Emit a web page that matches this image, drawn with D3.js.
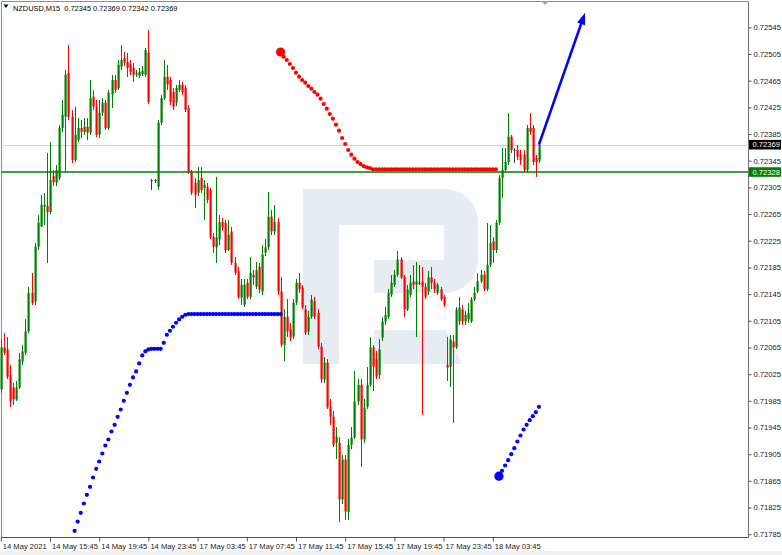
<!DOCTYPE html>
<html><head><meta charset="utf-8">
<script src="https://cdn.jsdelivr.net/npm/d3@7/dist/d3.min.js"></script>
<style>
html,body{margin:0;padding:0;background:#fff;}
svg{display:block;font-family:"Liberation Sans",Arial,sans-serif;}
</style></head><body>
<svg id="c" width="782" height="555"></svg>
<script>
// ---------- DATA ----------
const symbolTitle = "NZDUSD,M15";
const lastOHLC = [0.72345, 0.72369, 0.72342, 0.72369];

const open = [0.72002,0.72065,0.72062,0.72024,0.72005,0.71987,0.72005,0.72044,0.72057,0.72089,
0.72147,0.72134,0.72216,0.72246,0.72276,0.72277,0.72268,0.72322,0.72312,0.72319,
0.72394,0.72411,0.72477,0.72411,0.72346,0.72376,0.72394,0.72388,0.72396,0.72387,
0.72441,0.72426,0.72384,0.72417,0.72432,0.72394,0.72444,0.72466,0.72454,0.72486,
0.72499,0.72493,0.72489,0.72484,0.72474,0.72472,0.72475,0.72474,0.72507,0.72316,
0.72316,0.72306,0.72402,0.72439,0.72471,0.72466,0.72448,0.72432,0.72451,0.72459,
0.72454,0.72424,0.72328,0.72312,0.72297,0.72319,0.72304,0.72306,0.72301,0.72231,
0.72215,0.72227,0.72253,0.72252,0.72211,0.72239,0.72192,0.72179,0.72140,0.72129,
0.72162,0.72141,0.72174,0.72156,0.72186,0.72149,0.72207,0.72215,0.72261,0.72239,
0.72253,0.72149,0.72069,0.72111,0.72092,0.72081,0.72132,0.72162,0.72155,0.72122,
0.72089,0.72111,0.72134,0.72117,0.72066,0.72017,0.72042,0.71976,0.71961,0.71922,
0.71922,0.71837,0.71897,0.71818,0.71919,0.71930,0.71984,0.72009,0.71927,0.71976,
0.72009,0.72065,0.72047,0.72024,0.72080,0.72104,0.72111,0.72144,0.72159,0.72174,
0.72197,0.72171,0.72122,0.72144,0.72164,0.72159,0.72162,0.72164,0.72156,0.72149,
0.72170,0.72162,0.72147,0.72152,0.72141,0.72039,0.72036,0.72074,0.72065,0.72104,
0.72122,0.72104,0.72107,0.72104,0.72137,0.72149,0.72164,0.72174,0.72152,0.72189,
0.72224,0.72211,0.72252,0.72319,0.72331,0.72343,0.72381,0.72361,0.72361,0.72354,
0.72354,0.72331,0.72394,0.72394,0.72349,0.72345];

const high = [0.72077,0.72087,0.72080,0.72039,0.72012,0.72014,0.72057,0.72069,0.72107,0.72156,
0.72177,0.72222,0.72264,0.72294,0.72297,0.72357,0.72373,0.72331,0.72339,0.72399,
0.72436,0.72481,0.72519,0.72421,0.72426,0.72409,0.72406,0.72409,0.72409,0.72466,
0.72451,0.72436,0.72436,0.72439,0.72436,0.72451,0.72474,0.72474,0.72496,0.72519,
0.72508,0.72507,0.72496,0.72492,0.72481,0.72484,0.72487,0.72514,0.72541,0.72318,
0.72318,0.72406,0.72444,0.72496,0.72489,0.72471,0.72454,0.72459,0.72466,0.72463,
0.72459,0.72429,0.72331,0.72319,0.72336,0.72336,0.72316,0.72312,0.72304,0.72237,
0.72321,0.72264,0.72259,0.72256,0.72256,0.72245,0.72200,0.72185,0.72167,0.72167,
0.72167,0.72200,0.72181,0.72193,0.72192,0.72219,0.72227,0.72298,0.72271,0.72279,
0.72259,0.72171,0.72122,0.72137,0.72102,0.72137,0.72167,0.72177,0.72159,0.72129,
0.72119,0.72143,0.72140,0.72122,0.72072,0.72050,0.72047,0.71987,0.71969,0.71946,
0.71930,0.71904,0.71904,0.71927,0.71945,0.72029,0.72017,0.72017,0.71987,0.72036,
0.72080,0.72069,0.72059,0.72077,0.72110,0.72125,0.72152,0.72174,0.72181,0.72209,
0.72200,0.72174,0.72159,0.72174,0.72189,0.72193,0.72188,0.72185,0.72162,0.72179,
0.72186,0.72167,0.72162,0.72155,0.72144,0.72081,0.72084,0.72084,0.72125,0.72141,
0.72129,0.72119,0.72132,0.72140,0.72155,0.72177,0.72181,0.72179,0.72252,0.72249,
0.72230,0.72256,0.72324,0.72364,0.72364,0.72417,0.72384,0.72364,0.72369,0.72361,
0.72361,0.72399,0.72417,0.72399,0.72354,0.72369];

const low = [0.71997,0.72053,0.72017,0.71976,0.71979,0.71984,0.72002,0.72039,0.72054,0.72086,
0.72128,0.72129,0.72211,0.72245,0.72249,0.72192,0.72265,0.72307,0.72307,0.72316,
0.72388,0.72328,0.72406,0.72342,0.72343,0.72373,0.72379,0.72384,0.72376,0.72384,
0.72421,0.72381,0.72379,0.72412,0.72391,0.72391,0.72424,0.72447,0.72451,0.72481,
0.72487,0.72471,0.72474,0.72463,0.72471,0.72469,0.72472,0.72471,0.72430,0.72301,
0.72312,0.72301,0.72399,0.72436,0.72451,0.72429,0.72421,0.72427,0.72448,0.72444,
0.72418,0.72325,0.72294,0.72274,0.72292,0.72297,0.72256,0.72282,0.72227,0.72207,
0.72192,0.72219,0.72239,0.72207,0.72209,0.72189,0.72173,0.72137,0.72129,0.72126,
0.72137,0.72138,0.72159,0.72152,0.72147,0.72144,0.72202,0.72211,0.72234,0.72234,
0.72144,0.72066,0.72044,0.72080,0.72074,0.72077,0.72128,0.72147,0.72122,0.72083,
0.72084,0.72107,0.72107,0.72062,0.72012,0.72012,0.71972,0.71949,0.71915,0.71897,
0.71804,0.71830,0.71807,0.71807,0.71912,0.71927,0.71979,0.71886,0.71922,0.71972,
0.72005,0.71999,0.72017,0.72017,0.72074,0.72099,0.72107,0.72140,0.72155,0.72170,
0.72167,0.72110,0.72119,0.72141,0.72152,0.72080,0.72159,0.71964,0.72137,0.72144,
0.72152,0.72147,0.72144,0.72134,0.72126,0.72014,0.72006,0.71952,0.72062,0.72099,
0.72099,0.72099,0.72102,0.72101,0.72134,0.72146,0.72162,0.72149,0.72149,0.72185,
0.72192,0.72207,0.72249,0.72289,0.72328,0.72339,0.72357,0.72342,0.72346,0.72339,
0.72328,0.72328,0.72384,0.72339,0.72321,0.72342];

const close = [0.72065,0.72057,0.72021,0.71984,0.71987,0.72005,0.72047,0.72059,0.72089,0.72147,
0.72132,0.72216,0.72252,0.72279,0.72279,0.72268,0.72316,0.72313,0.72331,0.72394,
0.72414,0.72474,0.72411,0.72346,0.72384,0.72394,0.72388,0.72396,0.72387,0.72439,
0.72426,0.72384,0.72417,0.72432,0.72394,0.72447,0.72466,0.72451,0.72489,0.72496,
0.72492,0.72484,0.72478,0.72474,0.72477,0.72478,0.72480,0.72511,0.72433,0.72316,
0.72316,0.72402,0.72439,0.72471,0.72459,0.72433,0.72426,0.72454,0.72459,0.72448,
0.72421,0.72328,0.72297,0.72294,0.72316,0.72301,0.72309,0.72286,0.72230,0.72216,
0.72230,0.72253,0.72245,0.72211,0.72234,0.72192,0.72177,0.72140,0.72159,0.72159,
0.72141,0.72177,0.72170,0.72181,0.72152,0.72204,0.72215,0.72261,0.72239,0.72253,
0.72149,0.72069,0.72111,0.72089,0.72080,0.72132,0.72162,0.72152,0.72125,0.72087,
0.72111,0.72137,0.72111,0.72066,0.72017,0.72042,0.71975,0.71961,0.71919,0.71931,
0.71837,0.71897,0.71819,0.71919,0.71930,0.71984,0.72009,0.71927,0.71975,0.72009,
0.72065,0.72036,0.72021,0.72062,0.72104,0.72114,0.72147,0.72162,0.72174,0.72197,
0.72170,0.72122,0.72152,0.72162,0.72159,0.72164,0.72162,0.72156,0.72141,0.72170,
0.72162,0.72152,0.72159,0.72137,0.72129,0.72035,0.72077,0.72065,0.72122,0.72125,
0.72104,0.72114,0.72117,0.72137,0.72147,0.72164,0.72174,0.72152,0.72189,0.72222,
0.72211,0.72252,0.72319,0.72331,0.72343,0.72381,0.72361,0.72361,0.72351,0.72346,
0.72331,0.72394,0.72388,0.72343,0.72343,0.72369];

// indicator dots (bar index start + prices)
const blueStart = 24;
const blueDots = [0.71790,0.71804,0.71817,0.71831,0.71844,0.71856,0.71870,0.71883,0.71894,0.71906,
0.71918,0.71927,0.71939,0.71949,0.71961,0.71972,0.71985,0.71997,0.72009,0.72020,
0.72029,0.72041,0.72053,0.72059,0.72062,0.72063,0.72063,0.72063,0.72063,0.72072,
0.72084,0.72090,0.72096,0.72102,0.72107,0.72111,0.72114,0.72115,0.72115,0.72115,
0.72115,0.72115,0.72115,0.72115,0.72115,0.72115,0.72115,0.72115,0.72115,0.72115,
0.72115,0.72115,0.72115,0.72115,0.72115,0.72115,0.72115,0.72115,0.72115,0.72115,
0.72115,0.72115,0.72115,0.72115,0.72115,0.72115,0.72115,0.72115];
const redStart = 91;
const redDots = [0.72508,0.72501,0.72496,0.72490,0.72484,0.72477,0.72471,0.72466,0.72462,0.72457,
0.72453,0.72448,0.72444,0.72438,0.72430,0.72423,0.72415,0.72408,0.72399,0.72390,
0.72379,0.72370,0.72361,0.72354,0.72348,0.72343,0.72340,0.72337,0.72335,0.72334,
0.72332,0.72332,0.72332,0.72332,0.72332,0.72332,0.72332,0.72332,0.72332,0.72332,
0.72332,0.72332,0.72332,0.72332,0.72332,0.72332,0.72332,0.72332,0.72332,0.72332,
0.72332,0.72332,0.72332,0.72332,0.72332,0.72332,0.72332,0.72332,0.72332,0.72332,
0.72332,0.72332,0.72332,0.72332,0.72332,0.72332,0.72332,0.72332,0.72332,0.72332,
0.72332];
const blue2Start = 162;
const blueDots2 = [0.71872,0.71880,0.71888,0.71896,0.71905,0.71914,0.71924,0.71933,0.71942,0.71949,
0.71956,0.71962,0.71968,0.71976];
const arrowFrom = [175, 0.72369];
const arrowTo = [190, 0.72567];

const levelPrice = 0.72328;
const currentPrice = 0.72369;

const priceTicks = [0.72545,0.72505,0.72465,0.72425,0.72385,0.72345,0.72305,0.72265,0.72225,0.72185,
0.72145,0.72105,0.72065,0.72025,0.71985,0.71945,0.71905,0.71865,0.71825,0.71785];
const timeTickIndex = [0,16,32,48,64,80,96,112,128,144,160];
const timeTickLabels = ["14 May 2021","14 May 15:45","14 May 19:45","14 May 23:45","17 May 03:45",
"17 May 07:45","17 May 11:45","17 May 15:45","17 May 19:45","17 May 23:45","18 May 03:45"];

// ---------- LAYOUT ----------
const W = 782, H = 555;
const plotL = 1.5, plotR = 748.5, plotT = 1.5, plotB = 537.5;
const barStep = 3.075, x0 = 0.8;
const x = d3.scaleLinear().domain([0, 1]).range([x0, x0 + barStep]);
const y = d3.scaleLinear().domain([0.71785, 0.72545]).range([534.2, 27.3]);
const fmt = d3.format(".5f");
const GREEN = "#008000", RED = "#ff0000", BLUE = "#0000ff";

const svg = d3.select("#c");
svg.append("rect").attr("width", W).attr("height", H).attr("fill", "#fff");
svg.append("rect").attr("x", 0).attr("y", 551).attr("width", W).attr("height", 4).attr("fill", "#f0f0f0");

// watermark logo
const wm = svg.append("g").attr("fill", "#e7ecf3");
wm.append("path").attr("d", "M303,189H339V364H303Z");
wm.append("path").attr("d", "M339,189H445A33,33 0 0 1 478,222V260A33,33 0 0 1 445,293H374V260H444V225H339Z");
wm.append("path").attr("d", "M374,330H446L462,364H374Z");

// frame
const frame = svg.append("g").attr("stroke", "#8c8c8c").attr("stroke-width", 1).attr("fill", "none");
frame.append("line").attr("x1", plotL).attr("x2", plotL).attr("y1", plotT).attr("y2", plotB);
frame.append("line").attr("x1", plotL).attr("x2", plotR).attr("y1", plotT).attr("y2", plotT);
frame.append("line").attr("x1", plotR).attr("x2", plotR).attr("y1", plotT).attr("y2", plotB).attr("stroke", "#707070");
frame.append("line").attr("x1", plotL).attr("x2", plotR).attr("y1", plotB).attr("y2", plotB).attr("stroke", "#505050");

// current price line
svg.append("line").attr("x1", plotL).attr("x2", plotR)
  .attr("y1", Math.round(y(currentPrice)) + 0.5).attr("y2", Math.round(y(currentPrice)) + 0.5)
  .attr("stroke", "#d0d0d0").attr("stroke-width", 1);

// candles
const idx = d3.range(open.length);
const cg = svg.append("g");
idx.forEach(i => {
  const cx = Math.round(x(i));
  const up = close[i] > open[i], dn = close[i] < open[i];
  const col = up ? GREEN : (dn ? RED : "#404040");
  cg.append("rect").attr("x", cx).attr("width", 1)
    .attr("y", y(high[i])).attr("height", Math.max(1, y(low[i]) - y(high[i])))
    .attr("fill", col).attr("shape-rendering", "crispEdges");
  const yt = y(Math.max(open[i], close[i])), yb = y(Math.min(open[i], close[i]));
  cg.append("rect").attr("x", cx - 0.5).attr("width", 2.2)
    .attr("y", yt).attr("height", Math.max(1, yb - yt)).attr("fill", col);
});

// green level line
svg.append("line").attr("x1", plotL).attr("x2", plotR)
  .attr("y1", y(levelPrice)).attr("y2", y(levelPrice))
  .attr("stroke", GREEN).attr("stroke-width", 1.6);

// dots
function dots(arr, start, color) {
  svg.append("g").selectAll("circle").data(arr).join("circle")
    .attr("cx", (d, k) => x(start + k)).attr("cy", d => y(d)).attr("r", 2.1).attr("fill", color);
}
dots(blueDots, blueStart, BLUE);
dots(redDots, redStart, RED);
dots(blueDots2, blue2Start, BLUE);
svg.append("circle").attr("cx", x(redStart)).attr("cy", y(redDots[0])).attr("r", 4.6).attr("fill", RED);
svg.append("circle").attr("cx", x(blue2Start)).attr("cy", y(blueDots2[0])).attr("r", 4.6).attr("fill", BLUE);

// arrow
{
  const ax1 = x(arrowFrom[0]), ay1 = y(arrowFrom[1]), ax2 = x(arrowTo[0]), ay2 = y(arrowTo[1]);
  const ang = Math.atan2(ay2 - ay1, ax2 - ax1);
  const hl = 12, hw = 4.2;
  const bx = ax2 - hl * Math.cos(ang), by = ay2 - hl * Math.sin(ang);
  svg.append("line").attr("x1", ax1).attr("y1", ay1).attr("x2", bx + 2 * Math.cos(ang)).attr("y2", by + 2 * Math.sin(ang))
    .attr("stroke", BLUE).attr("stroke-width", 2.6);
  const px = -Math.sin(ang), py = Math.cos(ang);
  svg.append("path").attr("d", `M${ax2},${ay2}L${bx + hw * px},${by + hw * py}L${bx - hw * px},${by - hw * py}Z`)
    .attr("fill", BLUE);
}

// shift marker
svg.append("path").attr("d", `M${x(177) - 3.5},1.5L${x(177) + 3.5},1.5L${x(177)},5Z`).attr("fill", "#a8a8a8");

// price axis
const yAxis = d3.axisRight(y).tickValues(priceTicks).tickSize(3).tickPadding(2).tickFormat(fmt);
const ya = svg.append("g").attr("transform", `translate(${plotR},0)`).call(yAxis);
ya.select(".domain").remove();
ya.selectAll("line").attr("stroke", "#505050");
ya.selectAll("text").attr("font-size", "7.6px").attr("fill", "#202020").attr("font-family", "Liberation Sans, Arial, sans-serif");

// price boxes
function priceBox(p, bg) {
  const cy = y(p);
  svg.append("rect").attr("x", plotR + 0.5).attr("y", cy - 4.8).attr("width", 32).attr("height", 9.6).attr("fill", bg);
  svg.append("text").attr("x", plotR + 4).attr("y", cy + 2.8).attr("font-size", "7.6px").attr("fill", "#fff").text(fmt(p));
}
priceBox(currentPrice, "#000");
priceBox(levelPrice, GREEN);

// time axis
const xAxis = d3.axisBottom(x).tickValues(timeTickIndex).tickSize(4).tickFormat((d, k) => timeTickLabels[k]);
const xa = svg.append("g").attr("transform", `translate(0,${plotB})`).call(xAxis);
xa.select(".domain").remove();
xa.selectAll("line").attr("stroke", "#505050");
xa.selectAll("text").attr("text-anchor", "start").attr("dx", "1.5px").attr("dy", "0.55em")
  .attr("font-size", "7.6px").attr("fill", "#202020").attr("font-family", "Liberation Sans, Arial, sans-serif");

// title
svg.append("path").attr("d", "M3.5,4.5L8.5,4.5L6,8Z").attr("fill", "#000");
svg.append("text").attr("x", 13).attr("y", 10.5).attr("font-size", "7.4px").attr("fill", "#000")
  .attr("xml:space", "preserve")
  .text(symbolTitle + "  " + lastOHLC.map(fmt).join(" "));
</script>
</body></html>
